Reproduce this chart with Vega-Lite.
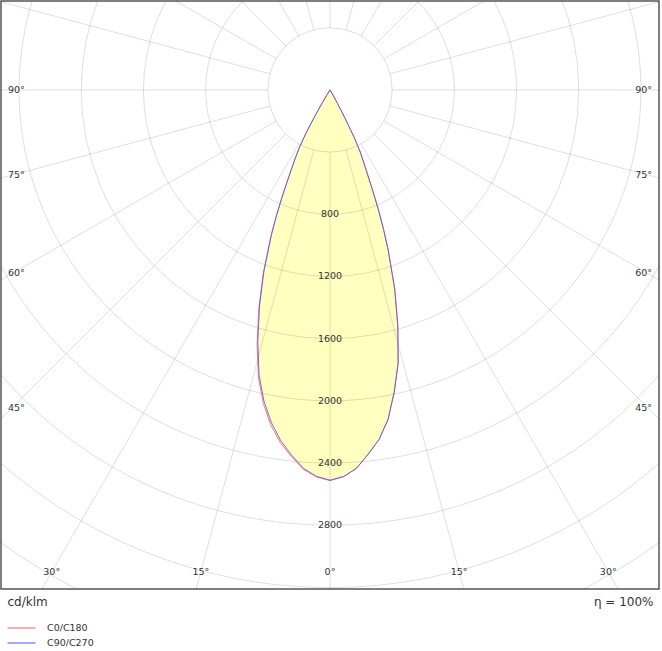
{
  "$schema": "https://vega.github.io/schema/vega-lite/v6.json",
  "width": 658,
  "height": 588,
  "autosize": {"type": "none"},
  "padding": {"left": 1, "top": 1, "right": 3, "bottom": 62},
  "background": "white",
  "config": {
    "view": {"stroke": "#555555", "strokeWidth": 1.5},
    "font": "DejaVu Sans",
    "axis": {"domain": false, "ticks": false, "labels": false, "grid": false, "titleFont": "DejaVu Sans", "titleFontSize": 12, "titleFontWeight": "normal", "titleColor": "#333333", "titleBaseline": "alphabetic"},
    "axisX": {"titleAnchor": null, "titleAlign": "left", "titleX": 6, "titleY": 16},
    "axisY": {"titleAnchor": null, "titleAngle": 0, "titleAlign": "right", "titleX": -6, "titleY": 604},
    "legend": {"orient": "none", "legendX": 15, "legendY": 621.5, "direction": "vertical", "title": null, "symbolType": "M-3,0L3,0", "symbolSize": 87, "symbolStrokeWidth": 1, "symbolOpacity": 1, "symbolFillColor": "transparent", "labelOffset": 20, "labelFont": "DejaVu Sans", "labelFontSize": 9.5, "labelColor": "#333333", "rowPadding": 5}
  },
  "datasets": {
    "curves": [
      {"c": "C0/C180", "a": -90, "I": 0}, {"c": "C0/C180", "a": -33, "I": 0}, {"c": "C0/C180", "a": -32, "I": 37}, {"c": "C0/C180", "a": -31, "I": 103}, {"c": "C0/C180", "a": -30, "I": 196}, {"c": "C0/C180", "a": -29, "I": 326}, {"c": "C0/C180", "a": -28, "I": 423}, {"c": "C0/C180", "a": -27, "I": 494}, {"c": "C0/C180", "a": -26, "I": 566}, {"c": "C0/C180", "a": -25, "I": 660}, {"c": "C0/C180", "a": -24, "I": 774}, {"c": "C0/C180", "a": -23, "I": 895}, {"c": "C0/C180", "a": -22, "I": 1017}, {"c": "C0/C180", "a": -20, "I": 1257}, {"c": "C0/C180", "a": -18, "I": 1484}, {"c": "C0/C180", "a": -16, "I": 1701}, {"c": "C0/C180", "a": -14, "I": 1905}, {"c": "C0/C180", "a": -12, "I": 2062}, {"c": "C0/C180", "a": -10, "I": 2189}, {"c": "C0/C180", "a": -8, "I": 2292}, {"c": "C0/C180", "a": -6, "I": 2372}, {"c": "C0/C180", "a": -4, "I": 2447}, {"c": "C0/C180", "a": -2, "I": 2491}, {"c": "C0/C180", "a": 0, "I": 2513}, {"c": "C0/C180", "a": 2, "I": 2490}, {"c": "C0/C180", "a": 4, "I": 2440}, {"c": "C0/C180", "a": 6, "I": 2355}, {"c": "C0/C180", "a": 8, "I": 2270}, {"c": "C0/C180", "a": 10, "I": 2150}, {"c": "C0/C180", "a": 12, "I": 1985}, {"c": "C0/C180", "a": 14, "I": 1810}, {"c": "C0/C180", "a": 16, "I": 1580}, {"c": "C0/C180", "a": 18, "I": 1345}, {"c": "C0/C180", "a": 20, "I": 1090}, {"c": "C0/C180", "a": 21, "I": 960}, {"c": "C0/C180", "a": 22, "I": 830}, {"c": "C0/C180", "a": 23, "I": 700}, {"c": "C0/C180", "a": 24, "I": 590}, {"c": "C0/C180", "a": 25, "I": 510}, {"c": "C0/C180", "a": 26, "I": 440}, {"c": "C0/C180", "a": 27, "I": 340}, {"c": "C0/C180", "a": 28, "I": 200}, {"c": "C0/C180", "a": 29, "I": 100}, {"c": "C0/C180", "a": 30, "I": 30}, {"c": "C0/C180", "a": 31, "I": 0}, {"c": "C0/C180", "a": 90, "I": 0},
      {"c": "C90/C270", "a": -90, "I": 0}, {"c": "C90/C270", "a": -33, "I": 0}, {"c": "C90/C270", "a": -32, "I": 35}, {"c": "C90/C270", "a": -31, "I": 100}, {"c": "C90/C270", "a": -30, "I": 192}, {"c": "C90/C270", "a": -29, "I": 320}, {"c": "C90/C270", "a": -28, "I": 417}, {"c": "C90/C270", "a": -27, "I": 488}, {"c": "C90/C270", "a": -26, "I": 559}, {"c": "C90/C270", "a": -25, "I": 652}, {"c": "C90/C270", "a": -24, "I": 765}, {"c": "C90/C270", "a": -23, "I": 884}, {"c": "C90/C270", "a": -22, "I": 1005}, {"c": "C90/C270", "a": -20, "I": 1243}, {"c": "C90/C270", "a": -18, "I": 1468}, {"c": "C90/C270", "a": -16, "I": 1684}, {"c": "C90/C270", "a": -14, "I": 1887}, {"c": "C90/C270", "a": -12, "I": 2045}, {"c": "C90/C270", "a": -10, "I": 2172}, {"c": "C90/C270", "a": -8, "I": 2278}, {"c": "C90/C270", "a": -6, "I": 2362}, {"c": "C90/C270", "a": -4, "I": 2440}, {"c": "C90/C270", "a": -2, "I": 2487}, {"c": "C90/C270", "a": 0, "I": 2510}, {"c": "C90/C270", "a": 2, "I": 2488}, {"c": "C90/C270", "a": 4, "I": 2440}, {"c": "C90/C270", "a": 6, "I": 2355}, {"c": "C90/C270", "a": 8, "I": 2270}, {"c": "C90/C270", "a": 10, "I": 2152}, {"c": "C90/C270", "a": 12, "I": 1988}, {"c": "C90/C270", "a": 14, "I": 1813}, {"c": "C90/C270", "a": 16, "I": 1585}, {"c": "C90/C270", "a": 18, "I": 1350}, {"c": "C90/C270", "a": 20, "I": 1095}, {"c": "C90/C270", "a": 21, "I": 963}, {"c": "C90/C270", "a": 22, "I": 833}, {"c": "C90/C270", "a": 23, "I": 703}, {"c": "C90/C270", "a": 24, "I": 592}, {"c": "C90/C270", "a": 25, "I": 512}, {"c": "C90/C270", "a": 26, "I": 441}, {"c": "C90/C270", "a": 27, "I": 341}, {"c": "C90/C270", "a": 28, "I": 201}, {"c": "C90/C270", "a": 29, "I": 100}, {"c": "C90/C270", "a": 30, "I": 30}, {"c": "C90/C270", "a": 31, "I": 0}, {"c": "C90/C270", "a": 90, "I": 0}
    ],
    "rings": [{"r": 400}, {"r": 800}, {"r": 1200}, {"r": 1600}, {"r": 2000}, {"r": 2400}, {"r": 2800}, {"r": 3200}, {"r": 3600}, {"r": 4000}, {"r": 4400}],
    "spokes": [{"a": 0}, {"a": 15}, {"a": 30}, {"a": 45}, {"a": 60}, {"a": 75}, {"a": 90}, {"a": 105}, {"a": 120}, {"a": 135}, {"a": 150}, {"a": 165}, {"a": 180}, {"a": 195}, {"a": 210}, {"a": 225}, {"a": 240}, {"a": 255}, {"a": 270}, {"a": 285}, {"a": 300}, {"a": 315}, {"a": 330}, {"a": 345}],
    "anglabels": [
      {"t": "90°", "a": 90, "side": "L"}, {"t": "75°", "a": 75, "side": "L"}, {"t": "60°", "a": 60, "side": "L"}, {"t": "45°", "a": 45, "side": "L"},
      {"t": "90°", "a": 90, "side": "R"}, {"t": "75°", "a": 75, "side": "R"}, {"t": "60°", "a": 60, "side": "R"}, {"t": "45°", "a": 45, "side": "R"},
      {"t": "30°", "a": -30, "side": "B"}, {"t": "15°", "a": -15, "side": "B"}, {"t": "0°", "a": 0, "side": "B"}, {"t": "15°", "a": 15, "side": "B"}, {"t": "30°", "a": 30, "side": "B"}
    ]
  },
  "layer": [
    {
      "data": {"name": "curves"},
      "transform": [
        {"calculate": "datum.I * sin(datum.a * PI / 180)", "as": "x"},
        {"calculate": "-datum.I * cos(datum.a * PI / 180)", "as": "y"}
      ],
      "mark": {"type": "line", "fill": "#ffffc0", "fillOpacity": 1, "strokeOpacity": 0, "interpolate": "linear"},
      "encoding": {
        "x": {"field": "x", "type": "quantitative", "scale": {"domain": [-2116, 2116], "nice": false, "zero": false}, "axis": {"title": "cd/klm"}},
        "y": {"field": "y", "type": "quantitative", "scale": {"domain": [-3210, 572], "nice": false, "zero": false}, "axis": {"title": "η = 100%", "orient": "right"}},
        "detail": {"field": "c"},
        "order": {"field": "a", "type": "quantitative"}
      }
    },
    {
      "data": {"name": "rings"},
      "mark": {"type": "point", "shape": "circle", "filled": false, "stroke": "#000000", "strokeOpacity": 0.13, "strokeWidth": 1, "opacity": 1, "clip": true},
      "encoding": {
        "x": {"datum": 0, "type": "quantitative", "scale": {"domain": [-2116, 2116], "nice": false, "zero": false}, "axis": {"title": "cd/klm"}},
        "y": {"datum": 0, "type": "quantitative", "scale": {"domain": [-3210, 572], "nice": false, "zero": false}, "axis": {"title": "η = 100%", "orient": "right"}},
        "size": {"field": "r", "type": "quantitative", "scale": {"type": "pow", "exponent": 2, "domain": [0, 4400], "range": [0, 1871970]}, "legend": null}
      }
    },
    {
      "data": {"name": "spokes"},
      "transform": [
        {"calculate": "400 * sin(datum.a * PI / 180)", "as": "x"},
        {"calculate": "-400 * cos(datum.a * PI / 180)", "as": "y"},
        {"calculate": "6000 * sin(datum.a * PI / 180)", "as": "x2"},
        {"calculate": "-6000 * cos(datum.a * PI / 180)", "as": "y2"}
      ],
      "mark": {"type": "rule", "stroke": "#000000", "strokeOpacity": 0.13, "strokeWidth": 1, "clip": true},
      "encoding": {
        "x": {"field": "x", "type": "quantitative", "scale": {"domain": [-2116, 2116], "nice": false, "zero": false}, "axis": {"title": "cd/klm"}},
        "y": {"field": "y", "type": "quantitative", "scale": {"domain": [-3210, 572], "nice": false, "zero": false}, "axis": {"title": "η = 100%", "orient": "right"}},
        "x2": {"field": "x2"},
        "y2": {"field": "y2"}
      }
    },
    {
      "data": {"name": "curves"},
      "transform": [
        {"calculate": "datum.I * sin(datum.a * PI / 180)", "as": "x"},
        {"calculate": "-datum.I * cos(datum.a * PI / 180)", "as": "y"}
      ],
      "mark": {"type": "line", "strokeWidth": 1, "opacity": 0.8},
      "encoding": {
        "x": {"field": "x", "type": "quantitative", "scale": {"domain": [-2116, 2116], "nice": false, "zero": false}, "axis": {"title": "cd/klm"}},
        "y": {"field": "y", "type": "quantitative", "scale": {"domain": [-3210, 572], "nice": false, "zero": false}, "axis": {"title": "η = 100%", "orient": "right"}},
        "color": {"field": "c", "type": "nominal", "scale": {"domain": ["C0/C180", "C90/C270"], "range": ["#ff5a5a", "#5050f0"]}},
        "order": {"field": "a", "type": "quantitative"}
      }
    },
    {
      "data": {"name": "rings"},
      "transform": [
        {"filter": "datum.r >= 800 && datum.r <= 2800"},
        {"calculate": "-datum.r", "as": "y"}
      ],
      "mark": {"type": "text", "font": "DejaVu Sans", "fontSize": 9.5, "color": "#333333", "align": "center", "baseline": "middle"},
      "encoding": {
        "x": {"datum": 0, "type": "quantitative", "scale": {"domain": [-2116, 2116], "nice": false, "zero": false}, "axis": {"title": "cd/klm"}},
        "y": {"field": "y", "type": "quantitative", "scale": {"domain": [-3210, 572], "nice": false, "zero": false}, "axis": {"title": "η = 100%", "orient": "right"}},
        "text": {"field": "r", "type": "quantitative", "format": "d"}
      }
    },
    {
      "data": {"name": "anglabels"},
      "transform": [
        {"filter": "datum.side == 'L'"},
        {"calculate": "-2071", "as": "x"},
        {"calculate": "datum.a == 90 ? 0 : -2045 / tan(datum.a * PI / 180)", "as": "y"}
      ],
      "mark": {"type": "text", "font": "DejaVu Sans", "fontSize": 9.5, "color": "#333333", "align": "left", "baseline": "middle"},
      "encoding": {
        "x": {"field": "x", "type": "quantitative", "scale": {"domain": [-2116, 2116], "nice": false, "zero": false}, "axis": {"title": "cd/klm"}},
        "y": {"field": "y", "type": "quantitative", "scale": {"domain": [-3210, 572], "nice": false, "zero": false}, "axis": {"title": "η = 100%", "orient": "right"}},
        "text": {"field": "t"}
      }
    },
    {
      "data": {"name": "anglabels"},
      "transform": [
        {"filter": "datum.side == 'R'"},
        {"calculate": "2071", "as": "x"},
        {"calculate": "datum.a == 90 ? 0 : -2045 / tan(datum.a * PI / 180)", "as": "y"}
      ],
      "mark": {"type": "text", "font": "DejaVu Sans", "fontSize": 9.5, "color": "#333333", "align": "right", "baseline": "middle"},
      "encoding": {
        "x": {"field": "x", "type": "quantitative", "scale": {"domain": [-2116, 2116], "nice": false, "zero": false}, "axis": {"title": "cd/klm"}},
        "y": {"field": "y", "type": "quantitative", "scale": {"domain": [-3210, 572], "nice": false, "zero": false}, "axis": {"title": "η = 100%", "orient": "right"}},
        "text": {"field": "t"}
      }
    },
    {
      "data": {"name": "anglabels"},
      "transform": [
        {"filter": "datum.side == 'B'"},
        {"calculate": "3100 * tan(datum.a * PI / 180)", "as": "x"},
        {"calculate": "-3100", "as": "y"}
      ],
      "mark": {"type": "text", "font": "DejaVu Sans", "fontSize": 9.5, "color": "#333333", "align": "center", "baseline": "middle"},
      "encoding": {
        "x": {"field": "x", "type": "quantitative", "scale": {"domain": [-2116, 2116], "nice": false, "zero": false}, "axis": {"title": "cd/klm"}},
        "y": {"field": "y", "type": "quantitative", "scale": {"domain": [-3210, 572], "nice": false, "zero": false}, "axis": {"title": "η = 100%", "orient": "right"}},
        "text": {"field": "t"}
      }
    }
  ]
}
